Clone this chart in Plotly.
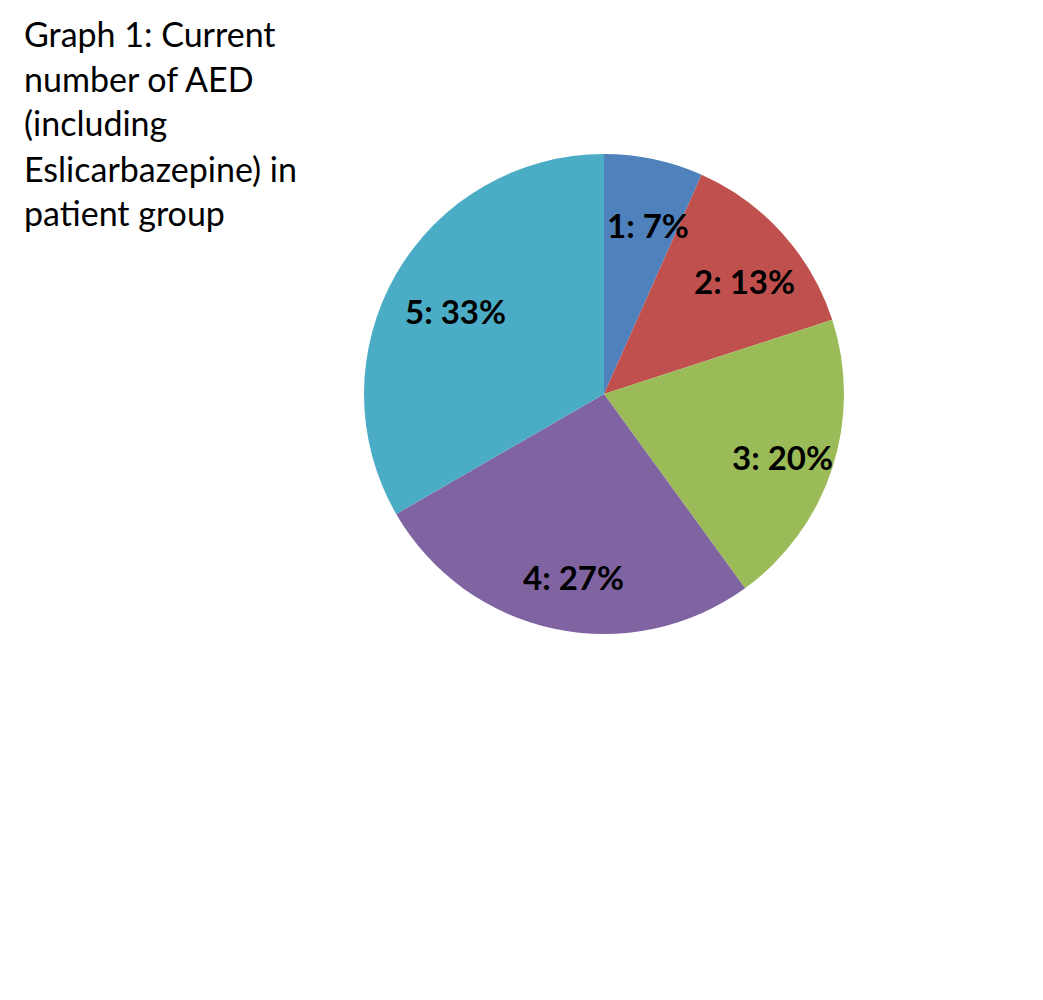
import math
import plotly.graph_objects as go

categories = ["1", "2", "3", "4", "5"]
values = [1, 2, 3, 4, 5]
colors = ["#4F81BD", "#C0504D", "#9BBB59", "#8064A2", "#4BACC6"]
title_lines = ["Graph 1: Current", "number of AED", "(including", "Eslicarbazepine) in", "patient group"]

W, H = 1043, 1000
cx, cy, r = 603, 393, 240
shift = 7  # plotly offsets the pie by a few pixels relative to its domain

fig = go.Figure()
fig.add_trace(go.Pie(
    labels=categories,
    values=values,
    sort=False,
    direction="clockwise",
    rotation=0,
    marker=dict(colors=colors, line=dict(width=0)),
    textinfo="none",
    domain=dict(x=[(cx - shift - r) / W, (cx - shift + r) / W],
                y=[1 - (cy - shift + r) / H, 1 - (cy - shift - r) / H]),
    showlegend=False,
    hoverinfo="label+percent",
))

# data labels placed at each slice's mid-angle
total = sum(values)
cum = 0
for lab, v in zip(categories, values):
    mid = (cum + v / 2) / total * 2 * math.pi
    cum += v
    rr = 0.75 * r
    px = cx + rr * math.sin(mid)
    py = cy - rr * math.cos(mid)
    fig.add_annotation(
        text=f"<b>{lab}: {round(100 * v / total)}%</b>",
        xref="paper", yref="paper", x=px / W, y=1 - py / H,
        xanchor="center", yanchor="middle", showarrow=False,
        font=dict(family="Lato", size=33, color="black"),
    )

for i, line in enumerate(title_lines):
    fig.add_annotation(
        text=line, xref="paper", yref="paper",
        x=14 / W, y=1 - (25 + 45 * i) / H,
        xanchor="left", yanchor="middle", showarrow=False,
        font=dict(family="Lato", size=34, color="black"),
    )

fig.update_layout(
    width=W, height=H,
    margin=dict(l=0, r=0, t=0, b=0),
    paper_bgcolor="white", plot_bgcolor="white",
)
fig.write_html("out.html")
